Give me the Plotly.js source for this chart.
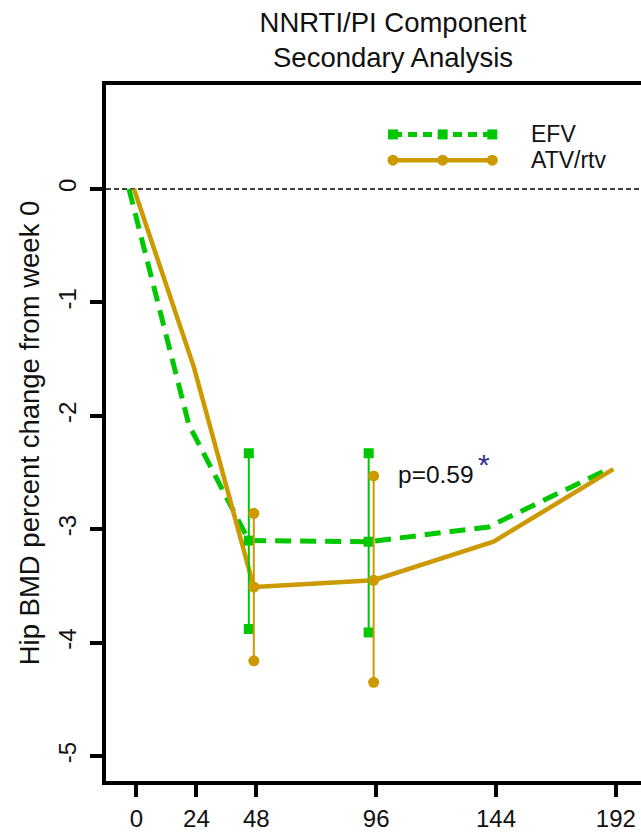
<!DOCTYPE html>
<html>
<head>
<meta charset="utf-8">
<script src="https://cdn.plot.ly/plotly-3.0.1.min.js"></script>
<style>
html,body{margin:0;padding:0;overflow:hidden;background:#fff;}
#chart{width:680px;height:834px;}
</style>
</head>
<body>
<div id="chart"></div>
<script>
// ---- data ----
var weeks = [0, 24, 48, 96, 144, 192];
var efvMean = [0, -2.08, -3.10, -3.11, -2.98, -2.47];
var atvMean = [0, -1.57, -3.51, -3.45, -3.11, -2.47];
var ciWeeks = [48, 96];
var efvUpper = [-2.33, -2.33];
var efvCiMean = [-3.10, -3.11];
var efvLower = [-3.88, -3.91];
var atvUpper = [-2.86, -2.53];
var atvCiMean = [-3.51, -3.45];
var atvLower = [-4.16, -4.35];
var xTickVals = [0, 24, 48, 96, 144, 192];
var yTickVals = [0, -1, -2, -3, -4, -5];
var yTickText = ["0", "-1", "-2", "-3", "-4", "-5"];
var seriesNames = ["EFV", "ATV/rtv"];
var pLabel = "p=0.59";

// ---- styling ----
var GREEN = "#00C800";
var GOLD = "#CC9900";
var FONT = "Liberation Sans, Arial, sans-serif";
var efvShift = -3, atvShift = -1;   // horizontal jitter (weeks) used in the original

function shift(arr, d) { return arr.map(function (v) { return v + d; }); }

var traces = [];
traces.push({
  x: shift(weeks, efvShift), y: efvMean, type: "scatter", mode: "lines",
  line: {color: GREEN, width: 5, dash: "16px,9px"}, showlegend: false, hoverinfo: "skip"
});
traces.push({
  x: shift(weeks, atvShift), y: atvMean, type: "scatter", mode: "lines",
  line: {color: GOLD, width: 4.5}, showlegend: false, hoverinfo: "skip"
});
ciWeeks.forEach(function (w, i) {
  traces.push({
    x: [w + efvShift, w + efvShift, w + efvShift], y: [efvUpper[i], efvCiMean[i], efvLower[i]],
    type: "scatter", mode: "lines+markers",
    line: {color: GREEN, width: 2}, marker: {symbol: "square", size: 10, color: GREEN},
    showlegend: false, hoverinfo: "skip"
  });
});
ciWeeks.forEach(function (w, i) {
  traces.push({
    x: [w + atvShift, w + atvShift, w + atvShift], y: [atvUpper[i], atvCiMean[i], atvLower[i]],
    type: "scatter", mode: "lines+markers",
    line: {color: GOLD, width: 2}, marker: {symbol: "circle", size: 11, color: GOLD},
    showlegend: false, hoverinfo: "skip"
  });
});

// custom legend (paper coordinates)
var lx0 = 0.500, lx1 = 0.673, lxm = (lx0 + lx1) / 2, ly1 = 0.929, ly2 = 0.892, ltx = 0.737;
var shapes = [
  {type: "line", xref: "paper", yref: "y", x0: 0, x1: 1, y0: 0, y1: 0,
   line: {color: "#000", width: 1.5, dash: "5px,3px"}, layer: "below"},
  {type: "line", xref: "paper", yref: "paper", x0: lx0, x1: lx1, y0: ly1, y1: ly1,
   line: {color: GREEN, width: 5, dash: "9px,6px"}},
  {type: "line", xref: "paper", yref: "paper", x0: lx0, x1: lx1, y0: ly2, y1: ly2,
   line: {color: GOLD, width: 4.5}}
];
[lx0, lxm, lx1].forEach(function (px) {
  shapes.push({type: "rect", xref: "paper", yref: "paper", xsizemode: "pixel", ysizemode: "pixel",
    xanchor: px, yanchor: ly1, x0: -5, x1: 5, y0: -5, y1: 5,
    fillcolor: GREEN, line: {width: 0}});
  shapes.push({type: "circle", xref: "paper", yref: "paper", xsizemode: "pixel", ysizemode: "pixel",
    xanchor: px, yanchor: ly2, x0: -5.5, x1: 5.5, y0: -5.5, y1: 5.5,
    fillcolor: GOLD, line: {width: 0}});
});

var annotations = [
  {xref: "paper", yref: "paper", x: ltx, y: ly1, xanchor: "left", yanchor: "middle",
   text: seriesNames[0], showarrow: false, font: {family: FONT, size: 23, color: "#111"}},
  {xref: "paper", yref: "paper", x: ltx, y: ly2, xanchor: "left", yanchor: "middle",
   text: seriesNames[1], showarrow: false, font: {family: FONT, size: 23, color: "#111"}},
  {xref: "x", yref: "y", x: 104, y: -2.52, xanchor: "left", yanchor: "middle",
   text: pLabel, showarrow: false, font: {family: FONT, size: 24.5, color: "#111"}},
  {xref: "x", yref: "y", x: 139.3, y: -2.43, xanchor: "center", yanchor: "middle",
   text: "*", showarrow: false, font: {family: FONT, size: 30, color: "#2E3192"}}
];

var layout = {
  width: 680, height: 834,
  margin: {l: 106, r: 0, t: 85, b: 53, pad: 0},
  paper_bgcolor: "#fff", plot_bgcolor: "#fff",
  font: {family: FONT, color: "#111"},
  title: {text: "NNRTI/PI Component<br>Secondary Analysis", x: 0.5, xref: "paper",
          y: 0.962, yanchor: "top", font: {family: FONT, size: 27.5, color: "#111"}},
  xaxis: {
    range: [-12.2, 217.7], tickmode: "array", tickvals: xTickVals,
    showgrid: false, zeroline: false, showline: true, mirror: true,
    linecolor: "#000", linewidth: 4, ticks: "outside", ticklen: 12, tickwidth: 4, tickcolor: "#000",
    tickfont: {family: FONT, size: 24, color: "#111"}, ticklabelstandoff: 1
  },
  yaxis: {
    range: [-5.22, 0.917], tickmode: "array", tickvals: yTickVals, ticktext: yTickText,
    tickangle: -90,
    showgrid: false, zeroline: false, showline: true, mirror: true,
    linecolor: "#000", linewidth: 4, ticks: "outside", ticklen: 12, tickwidth: 4, tickcolor: "#000",
    tickfont: {family: FONT, size: 24, color: "#111"}, ticklabelstandoff: 4,
    title: {text: "Hip BMD percent change from week 0", standoff: 8,
            font: {family: FONT, size: 27.5, color: "#111"}}
  },
  shapes: shapes,
  annotations: annotations,
  showlegend: false
};

Plotly.newPlot("chart", traces, layout, {staticPlot: true, displayModeBar: false});
</script>
</body>
</html>
